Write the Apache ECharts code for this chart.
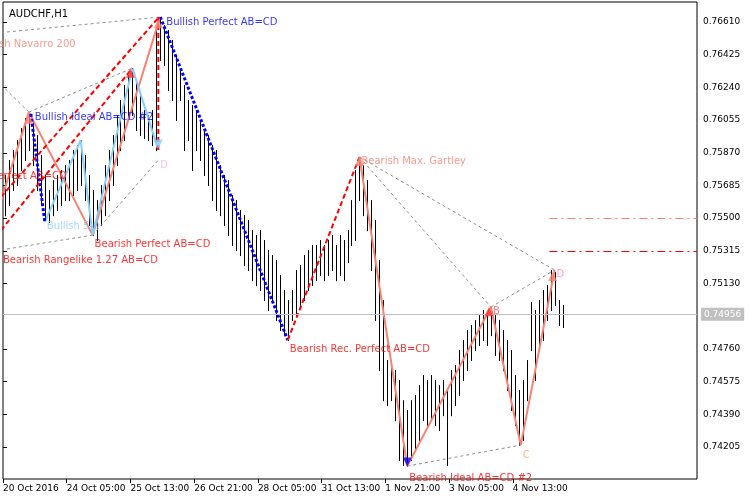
<!DOCTYPE html>
<html>
<head>
<meta charset="utf-8">
<script src="https://cdn.jsdelivr.net/npm/echarts@6/dist/echarts.min.js"></script>
<style>html,body{margin:0;padding:0;background:#fff}#chart{width:750px;height:500px}</style>
</head>
<body>
<div id="chart"></div>
<script>
// H1 bars, one per hour (index = bar number)
const highs = [0.75744,0.75829,0.75885,0.75942,0.76010,0.76066,0.76100,0.76055,0.75970,0.75857,
  0.75744,0.75659,0.75715,0.75744,0.75772,0.75800,0.75829,0.75885,0.75913,0.75942,
  0.75857,0.75744,0.75659,0.75602,0.75687,0.75800,0.75885,0.75970,0.76083,0.76168,
  0.76253,0.76310,0.76349,0.76281,0.76196,0.76112,0.76083,0.76112,0.76564,0.76638,
  0.76593,0.76564,0.76508,0.76423,0.76338,0.76253,0.76168,0.76140,0.76112,0.76055,
  0.75998,0.75970,0.75913,0.75885,0.75800,0.75744,0.75715,0.75630,0.75602,0.75546,
  0.75517,0.75489,0.75432,0.75404,0.75432,0.75376,0.75319,0.75291,0.75263,0.75178,
  0.75093,0.75036,0.75093,0.75206,0.75234,0.75291,0.75319,0.75348,0.75348,0.75376,
  0.75348,0.75376,0.75404,0.75348,0.75404,0.75376,0.75432,0.75602,0.75772,0.75846,
  0.75800,0.75715,0.75602,0.75489,0.75263,0.75036,0.74697,0.74669,0.74640,0.74584,
  0.74470,0.74414,0.74470,0.74499,0.74555,0.74612,0.74584,0.74612,0.74584,0.74555,
  0.74584,0.74527,0.74640,0.74669,0.74753,0.74810,0.74867,0.74895,0.74923,0.74951,
  0.74980,0.74951,0.74997,0.74951,0.74923,0.74867,0.74810,0.74753,0.74612,0.74527,
  0.74584,0.74697,0.75025,0.74980,0.75036,0.75093,0.75121,0.75206,0.75195,0.75036,
  0.75008];
const lows = [0.75517,0.75574,0.75659,0.75687,0.75772,0.75829,0.75885,0.75800,0.75659,0.75574,
  0.75489,0.75478,0.75517,0.75546,0.75574,0.75602,0.75602,0.75630,0.75659,0.75687,
  0.75602,0.75461,0.75404,0.75376,0.75461,0.75517,0.75602,0.75687,0.75800,0.75885,
  0.75942,0.76055,0.76083,0.75998,0.75970,0.75953,0.75942,0.75913,0.75885,0.76394,
  0.76366,0.76225,0.76168,0.76055,0.76168,0.75885,0.75942,0.75772,0.75885,0.75829,
  0.75744,0.75687,0.75602,0.75546,0.75517,0.75461,0.75404,0.75348,0.75319,0.75291,
  0.75234,0.75206,0.75149,0.75121,0.75093,0.75036,0.74980,0.75036,0.74923,0.74867,
  0.74838,0.74810,0.74923,0.74951,0.75008,0.75036,0.75093,0.75121,0.75149,0.75178,
  0.75149,0.75178,0.75206,0.75149,0.75178,0.75149,0.75251,0.75348,0.75376,0.75602,
  0.75517,0.75432,0.75206,0.74923,0.74640,0.74470,0.74442,0.74470,0.74357,0.74131,
  0.74103,0.74097,0.74131,0.74187,0.74244,0.74357,0.74329,0.74357,0.74329,0.74301,
  0.74385,0.74103,0.74385,0.74442,0.74499,0.74584,0.74640,0.74697,0.74753,0.74782,
  0.74810,0.74782,0.74838,0.74725,0.74697,0.74640,0.74527,0.74414,0.74329,0.74216,
  0.74244,0.74470,0.74753,0.74584,0.74753,0.74810,0.74923,0.74980,0.75008,0.74895,
  0.74884];

const timeTicks = [0, 16, 32, 48, 64, 80, 96, 112, 128];
const timeLabels = ["20 Oct 2016", "24 Oct 05:00", "25 Oct 13:00", "26 Oct 21:00", "28 Oct 05:00",
  "31 Oct 13:00", "1 Nov 21:00", "3 Nov 05:00", "4 Nov 13:00"];
const priceTicks = [0.74205, 0.7439, 0.74575, 0.7476, 0.7513, 0.75315, 0.755, 0.75685, 0.7587,
  0.76055, 0.7624, 0.76425, 0.7661];
const lastPrice = 0.74956;
const levelSalmon = 0.755;
const levelRed = 0.75315;

// pattern legs: [bar, price]
const salmonLeft = [[-1, 0.7560], [6, 0.7610], [22, 0.75404], [38.7, 0.76620]];
const lightBlue = [[10, 0.75478], [19, 0.75942], [22, 0.75404], [32, 0.76349], [38.5, 0.75885]];
const blueDashA = [[6.5, 0.76090], [10, 0.75478]];
const blueDashB = [[39, 0.76638], [71, 0.74810]];
const redDashA = [[-1, 0.75432], [32, 0.76349]];
const redDashB = [[-1, 0.75620], [38.7, 0.76638]];
const redDashC = [[38.5, 0.76638], [38.5, 0.75885]];
const redDashD = [[71, 0.74810], [89, 0.75846]];
const salmonRight = [[89, 0.75846], [101, 0.74097], [122, 0.74997], [129.5, 0.74216], [138, 0.75206]];
const grayLegs = [
  [[-1, 0.76550], [39, 0.76638]],
  [[-1, 0.76255], [6, 0.7610]],
  [[6, 0.7610], [32, 0.76349]],
  [[-1, 0.75320], [22, 0.75404]],
  [[22, 0.75404], [38.5, 0.75829]],
  [[89, 0.75846], [122, 0.74997]],
  [[89, 0.75846], [138, 0.75206]],
  [[122, 0.74997], [138, 0.75206]],
  [[101, 0.74097], [129.5, 0.74216]],
];

// text labels: [bar, price, text, color, shift px (texts running off the left edge)]
const notes = [
  [40, 0.76610, "Bullish Perfect AB=CD", "#0000ff", 0],
  [0, 0.76485, "Bearish Navarro 200", "#fa8072", -34],
  [7, 0.76072, "Bullish Ideal AB=CD #2", "#0000ff", 0],
  [0, 0.75738, "Bearish Perfect AB=CD", "#ff0000", -56],
  [10, 0.75455, "Bullish 5-0", "#87cefa", 0],
  [38.5, 0.75800, "D", "#ffb0d0", 0],
  [22, 0.75350, "Bearish Perfect AB=CD", "#ff0000", 0],
  [0, 0.75263, "Bearish Rangelike 1.27 AB=CD", "#ff0000", -4],
  [89, 0.75820, "Bearish Max. Gartley", "#fa8072", 0],
  [71, 0.74760, "Bearish Rec. Perfect AB=CD", "#ff0000", 0],
  [122, 0.74970, "B", "#ff6060", 0],
  [129.5, 0.74160, "C", "#ffa060", 0],
  [138, 0.75180, "D", "#ff80c0", 0],
  [101, 0.74030, "Bearish Ideal AB=CD #2", "#ff0000", 0],
];

const FONT = "DejaVu Sans";
const bars = highs.map((h, i) => [i + 0.5, lows[i], h]);
const shift = (pts) => pts.map(([x, y]) => [x + 0.5, y]);

function legSeries(pts, color, width, type) {
  return {
    type: "line", data: shift(pts), symbol: "none", silent: true, z: 3,
    lineStyle: { color: color, width: width, type: type },
  };
}

const myChart = echarts.init(document.getElementById("chart"));
const option = {
  animation: false,
  backgroundColor: "#fff",
  grid: { left: 0, top: 2, right: 53, bottom: 21, show: true, borderColor: "#000", borderWidth: 1 },
  title: { text: "AUDCHF,H1", left: 4, top: 4, textStyle: { fontFamily: FONT, fontSize: 10, fontWeight: "normal", color: "#000" } },
  xAxis: {
    type: "value", min: 0, max: 174.25,
    axisLine: { show: false },
    splitLine: { show: false },
    axisTick: { customValues: timeTicks, length: 4, inside: false, lineStyle: { color: "#000" } },
    axisLabel: {
      customValues: timeTicks, align: "left", margin: 5,
      fontFamily: FONT, fontSize: 9, color: "#000",
      formatter: (v) => timeLabels[timeTicks.indexOf(v)] || "",
    },
  },
  yAxis: {
    type: "value", position: "right", min: 0.74024, max: 0.76723, scale: true,
    axisLine: { show: false },
    splitLine: { show: false },
    axisTick: { customValues: priceTicks, length: 4, lineStyle: { color: "#000" } },
    axisLabel: {
      customValues: priceTicks, margin: 6,
      fontFamily: FONT, fontSize: 9, color: "#000",
      formatter: (v) => v.toFixed(5),
    },
  },
  series: [
    {
      type: "custom", z: 2, silent: true, clip: true,
      data: bars,
      renderItem: function (params, api) {
        const top = api.coord([api.value(0), api.value(2)]);
        const bot = api.coord([api.value(0), api.value(1)]);
        const x = Math.round(top[0]) + 0.5;
        return {
          type: "line",
          shape: { x1: x, y1: top[1], x2: x, y2: bot[1] + 1 },
          style: { stroke: "#000", lineWidth: 1 },
        };
      },
      markLine: {
        silent: true, symbol: "none",
        data: [
          [{ coord: [0, lastPrice], lineStyle: { color: "#c0c0c0", width: 1, type: "solid" },
             label: { show: true, position: "end", distance: 4, formatter: lastPrice.toFixed(5), color: "#fff",
               backgroundColor: "#c0c0c0", padding: [2, 3], fontFamily: FONT, fontSize: 9 } },
           { coord: [174.25, lastPrice] }],
          [{ coord: [137.2, levelSalmon], lineStyle: { color: "#fa8072", width: 1, type: [8, 4, 2, 4] }, label: { show: false } },
           { coord: [174.25, levelSalmon] }],
          [{ coord: [137.2, levelRed], lineStyle: { color: "#ff0000", width: 1, type: [8, 4, 2, 4] }, label: { show: false } },
           { coord: [174.25, levelRed] }],
        ],
      },
    },
    ...grayLegs.map((g) => legSeries(g, "#909090", 1, [3, 3])),
    legSeries(salmonLeft, "#fa8072", 2, "solid"),
    legSeries(lightBlue, "#87cefa", 2, "solid"),
    legSeries(blueDashA, "#0000ff", 3, [3, 2]),
    legSeries(blueDashB, "#0000ff", 3, [3, 2]),
    legSeries(redDashA, "#ff0000", 2, [5, 3]),
    legSeries(redDashB, "#ff0000", 2, [5, 3]),
    legSeries(redDashC, "#ff0000", 2, [5, 3]),
    legSeries(redDashD, "#ff0000", 2, [5, 3]),
    legSeries(salmonRight, "#fa8072", 2, "solid"),
    {
      type: "scatter", z: 5, silent: true, symbol: "triangle", symbolSize: 9,
      data: [
        { value: [6.5, 0.76060], itemStyle: { color: "#fa8072" } },
        { value: [39, 0.76600], itemStyle: { color: "#fa8072" } },
        { value: [32, 0.76320], itemStyle: { color: "#ff3030" } },
        { value: [89.5, 0.75820], itemStyle: { color: "#fa8072" } },
        { value: [122, 0.74970], itemStyle: { color: "#ff3030" } },
        { value: [138, 0.75170], itemStyle: { color: "#fa8072" } },
        { value: [39, 0.75920], symbolRotate: 180, itemStyle: { color: "#87cefa" } },
        { value: [101.5, 0.74120], symbolRotate: 180, itemStyle: { color: "#0000ff" } },
      ],
    },
    {
      type: "scatter", z: 6, silent: true, symbolSize: 0,
      data: notes.map((n) => ({
        value: [n[0] + 0.5, n[1]],
        label: { show: true, position: "right", distance: 2, offset: [n[4], 0], formatter: n[2], color: n[3],
          fontFamily: FONT, fontSize: 10 },
      })),
    },
  ],
};
option && myChart.setOption(option);
</script>
</body>
</html>
